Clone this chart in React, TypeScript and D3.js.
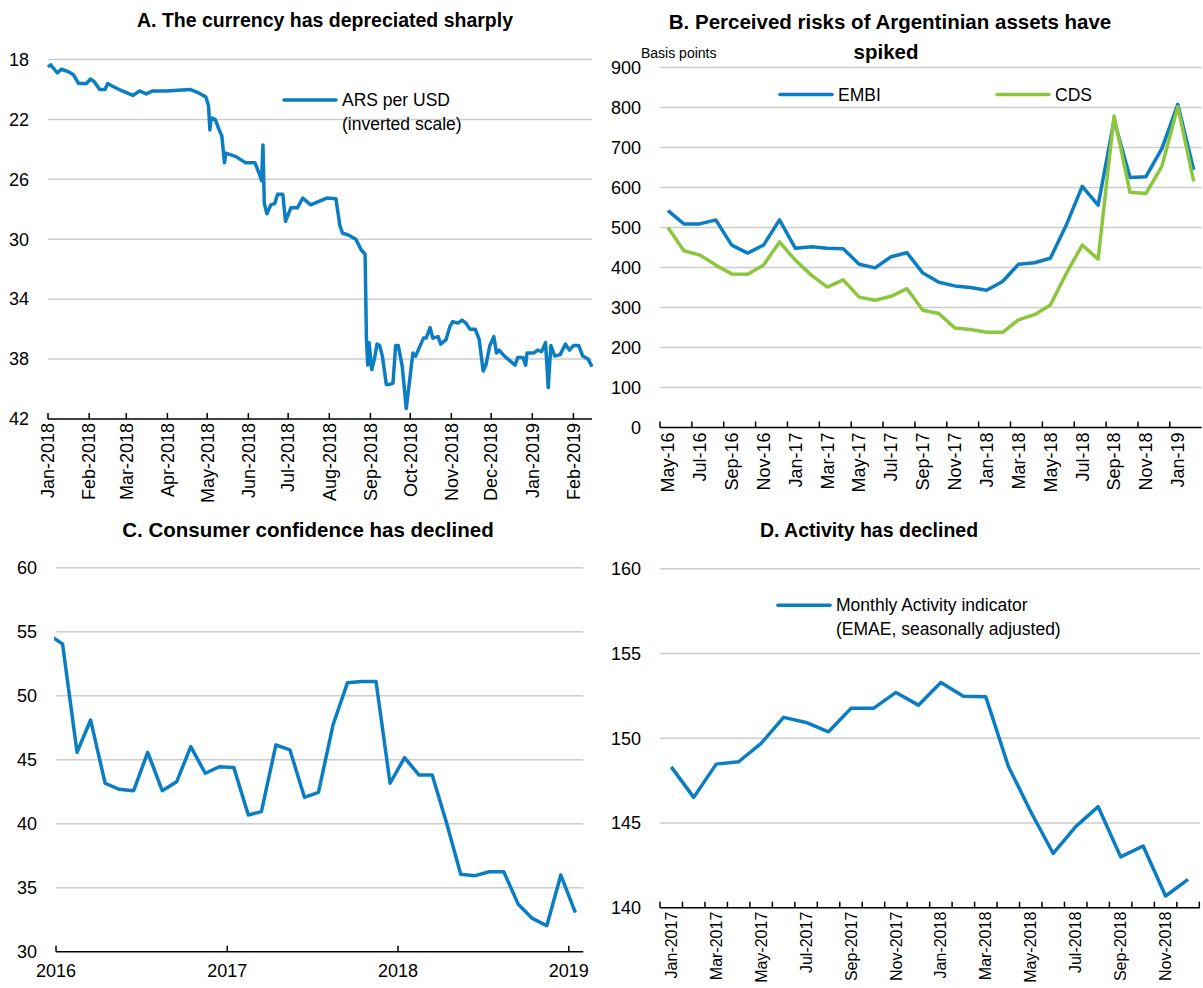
import React from 'react'
import * as d3 from 'd3'

const FONT = '"Liberation Sans", Arial, sans-serif'
const BLUE = '#0b7dc3'
const GREEN = '#8cc63f'
const GRID = '#cccccc'

// A. exchange rate, ARS per USD (inverted)
const fxDates = [
    '2018-01-01', '2018-01-03', '2018-01-08', '2018-01-11', '2018-01-16', '2018-01-20', '2018-01-24', '2018-01-30',
    '2018-02-02', '2018-02-05', '2018-02-09', '2018-02-13', '2018-02-15', '2018-02-19', '2018-02-26', '2018-03-06',
    '2018-03-11', '2018-03-16', '2018-03-21', '2018-03-31', '2018-04-18', '2018-04-25', '2018-04-30', '2018-05-02',
    '2018-05-03', '2018-05-04', '2018-05-07', '2018-05-10', '2018-05-12', '2018-05-14', '2018-05-15', '2018-05-20',
    '2018-05-23', '2018-05-30', '2018-06-06', '2018-06-10', '2018-06-11', '2018-06-12', '2018-06-13', '2018-06-15',
    '2018-06-18', '2018-06-21', '2018-06-23', '2018-06-27', '2018-06-29', '2018-07-03', '2018-07-08', '2018-07-12',
    '2018-07-18', '2018-07-30', '2018-08-06', '2018-08-09', '2018-08-11', '2018-08-15', '2018-08-21', '2018-08-25',
    '2018-08-28', '2018-08-29', '2018-08-30', '2018-08-31', '2018-09-02', '2018-09-04', '2018-09-06', '2018-09-08',
    '2018-09-10', '2018-09-13', '2018-09-15', '2018-09-18', '2018-09-20', '2018-09-22', '2018-09-25', '2018-09-28',
    '2018-10-01', '2018-10-03', '2018-10-05', '2018-10-07', '2018-10-11', '2018-10-13', '2018-10-16', '2018-10-18',
    '2018-10-22', '2018-10-24', '2018-10-28', '2018-10-31', '2018-11-02', '2018-11-06', '2018-11-09', '2018-11-12',
    '2018-11-15', '2018-11-19', '2018-11-22', '2018-11-25', '2018-11-27', '2018-11-30', '2018-12-03', '2018-12-05',
    '2018-12-07', '2018-12-11', '2018-12-15', '2018-12-19', '2018-12-21', '2018-12-25', '2018-12-27', '2018-12-28',
    '2019-01-02', '2019-01-05', '2019-01-08', '2019-01-11', '2019-01-13', '2019-01-15', '2019-01-18', '2019-01-22',
    '2019-01-26', '2019-01-29', '2019-02-01', '2019-02-05', '2019-02-08', '2019-02-12', '2019-02-15',
]
const fxValues = [
    18.5, 18.35, 18.9, 18.65, 18.8, 19.0, 19.6, 19.6,
    19.3, 19.5, 20.0, 20.0, 19.6, 19.8, 20.1, 20.4,
    20.1, 20.3, 20.1, 20.1, 20.0, 20.25, 20.5, 21.1,
    22.7, 21.9, 22.0, 22.7, 23.1, 24.9, 24.25, 24.4,
    24.5, 24.9, 24.9, 25.8, 26.1, 23.7, 27.6, 28.3,
    27.7, 27.6, 27.0, 27.0, 28.8, 27.9, 27.9, 27.25,
    27.7, 27.25, 27.3, 29.1, 29.6, 29.7, 30.0, 30.7,
    31.0, 36.7, 38.4, 36.9, 38.7, 38.0, 37.0, 37.1,
    37.8, 39.7, 39.7, 39.6, 37.1, 37.1, 38.5, 41.3,
    39.1, 37.6, 37.8, 37.4, 36.6, 36.6, 35.9, 36.6,
    36.5, 37.0, 36.7, 35.8, 35.5, 35.6, 35.4, 35.6,
    36.0, 36.0, 36.7, 38.8, 38.4, 37.1, 36.5, 37.6,
    37.4, 37.8, 38.1, 38.4, 37.9, 37.9, 38.4, 37.6,
    37.6, 37.4, 37.5, 36.9, 39.9, 37.1, 37.8, 37.7,
    37.0, 37.4, 37.1, 37.1, 37.8, 38.0, 38.5,
]
const fxTicks = [18, 22, 26, 30, 34, 38, 42]

// B. EMBI and CDS spreads, basis points
const riskMonths = [
    'May-16', 'Jun-16', 'Jul-16', 'Aug-16', 'Sep-16', 'Oct-16', 'Nov-16', 'Dec-16',
    'Jan-17', 'Feb-17', 'Mar-17', 'Apr-17', 'May-17', 'Jun-17', 'Jul-17', 'Aug-17',
    'Sep-17', 'Oct-17', 'Nov-17', 'Dec-17', 'Jan-18', 'Feb-18', 'Mar-18', 'Apr-18',
    'May-18', 'Jun-18', 'Jul-18', 'Aug-18', 'Sep-18', 'Oct-18', 'Nov-18', 'Dec-18',
    'Jan-19', 'Feb-19',
]
const embi = [
    542, 509, 509, 519, 456, 436, 456, 519,
    448, 452, 448, 447, 408, 399, 427, 437,
    386, 363, 354, 350, 343, 365, 408, 412,
    423, 506, 603, 556, 768, 625, 627, 697,
    808, 644,
]
const cds = [
    500, 442, 431, 406, 384, 383, 406, 464,
    418, 381, 351, 369, 326, 318, 328, 347,
    293, 285, 249, 245, 238, 238, 269, 282,
    306, 385, 456, 421, 779, 588, 585, 653,
    802, 615,
]
const riskTicks = [0, 100, 200, 300, 400, 500, 600, 700, 800, 900]

// C. consumer confidence index (mid-month)
const confMonths = [
    '2015-12',
    '2016-01', '2016-02', '2016-03', '2016-04', '2016-05', '2016-06', '2016-07', '2016-08', '2016-09', '2016-10', '2016-11', '2016-12',
    '2017-01', '2017-02', '2017-03', '2017-04', '2017-05', '2017-06', '2017-07', '2017-08', '2017-09', '2017-10', '2017-11', '2017-12',
    '2018-01', '2018-02', '2018-03', '2018-04', '2018-05', '2018-06', '2018-07', '2018-08', '2018-09', '2018-10', '2018-11', '2018-12',
    '2019-01',
]
const confValues = [
    54.8,
    54.04, 45.58, 48.1, 43.16, 42.69, 42.58, 45.58, 42.58, 43.28, 46.02, 43.94, 44.45,
    44.4, 40.68, 40.94, 46.15, 45.76, 42.06, 42.45, 47.71, 51.02, 51.1, 51.1, 43.16,
    45.16, 43.8, 43.8, 40.03, 36.05, 35.94, 36.25, 36.25, 33.7, 32.6, 32.03, 35.99,
    33.05,
]
const confTicks = [30, 35, 40, 45, 50, 55, 60]
const confYears = ['2016', '2017', '2018', '2019']

// D. EMAE, seasonally adjusted
const emaeMonths = [
    'Jan-2017', 'Feb-2017', 'Mar-2017', 'Apr-2017', 'May-2017', 'Jun-2017', 'Jul-2017', 'Aug-2017',
    'Sep-2017', 'Oct-2017', 'Nov-2017', 'Dec-2017', 'Jan-2018', 'Feb-2018', 'Mar-2018', 'Apr-2018',
    'May-2018', 'Jun-2018', 'Jul-2018', 'Aug-2018', 'Sep-2018', 'Oct-2018', 'Nov-2018', 'Dec-2018',
]
const emaeValues = [
    148.31, 146.51, 148.47, 148.61, 149.69, 151.23, 150.93, 150.38,
    151.76, 151.76, 152.7, 151.95, 153.29, 152.48, 152.44, 148.35,
    145.66, 143.2, 144.78, 145.96, 143.0, 143.64, 140.69, 141.67,
]
const emaeTicks = [140, 145, 150, 155, 160]

const parseDay = d3.timeParse('%Y-%m-%d')
const parseMonth = d3.timeParse('%Y-%m')

const txt = { fontFamily: FONT, fill: '#000' } as const
const TICK_FS = 18
const TITLE_FS = 19.5

const YLabels = ({ ticks, y, x }: { ticks: number[]; y: (v: number) => number; x: number }) => (
    <g>
        {ticks.map(t => (
            <text key={t} x={x} y={y(t)} dy="0.35em" textAnchor="end" fontSize={TICK_FS} style={txt}>{t}</text>
        ))}
    </g>
)

const Grid = ({ ticks, y, x0, x1 }: { ticks: number[]; y: (v: number) => number; x0: number; x1: number }) => (
    <g>
        {ticks.map(t => (
            <line key={t} x1={x0} x2={x1} y1={y(t)} y2={y(t)} stroke={GRID} strokeWidth={1.5} />
        ))}
    </g>
)

const LegendItem = ({ x, y, color, lines }: { x: number; y: number; color: string; lines: string[] }) => (
    <g>
        <line x1={x} x2={x + 52} y1={y} y2={y} stroke={color} strokeWidth={3.5} strokeLinecap="round" />
        {lines.map((l, i) => (
            <text key={i} x={x + 58} y={y + i * 24} dy="0.35em" fontSize={17.5} style={txt}>{l}</text>
        ))}
    </g>
)

function PanelA() {
    const x = d3.scaleTime().domain([new Date(2018, 0, 1), new Date(2019, 1, 15)]).range([48, 592])
    const y = d3.scaleLinear().domain([18, 42]).range([59.5, 419])
    const pts = fxDates.map((d, i) => [parseDay(d)!, fxValues[i]] as [Date, number])
    const line = d3.line<[Date, number]>().x(d => x(d[0])).y(d => y(d[1]))
    const ticks = d3.timeMonth.range(new Date(2018, 0, 1), new Date(2019, 1, 2))
    const fmt = d3.timeFormat('%b-%Y')
    return (
        <g>
            <text x={325} y={27} textAnchor="middle" fontSize={TITLE_FS} fontWeight="bold" style={txt}>A. The currency has depreciated sharply</text>
            <Grid ticks={fxTicks.slice(0, -1)} y={y} x0={48} x1={592} />
            <YLabels ticks={fxTicks} y={y} x={29} />
            <line x1={48} x2={592} y1={y(42)} y2={y(42)} stroke="#000" strokeWidth={1.5} />
            {ticks.map(t => (
                <g key={+t}>
                    <line x1={x(t)} x2={x(t)} y1={y(42)} y2={y(42) - 6} stroke="#000" strokeWidth={1.5} />
                    <text transform={`translate(${x(t)},${y(42) + 4}) rotate(-90)`} dy="0.35em" textAnchor="end" fontSize={TICK_FS} style={txt}>{fmt(t)}</text>
                </g>
            ))}
            <path d={line(pts)!} fill="none" stroke={BLUE} strokeWidth={3.5} strokeLinejoin="round" />
            <LegendItem x={284} y={100} color={BLUE} lines={['ARS per USD', '(inverted scale)']} />
        </g>
    )
}

function PanelB() {
    const x = d3.scaleBand().domain(riskMonths).range([660, 1201.7])
    const y = d3.scaleLinear().domain([0, 900]).range([427.5, 67.5])
    const cx = (m: string) => x(m)! + x.bandwidth() / 2
    const line = d3.line<number>().x((_, i) => cx(riskMonths[i])).y(d => y(d))
    const tickMonths = riskMonths.filter((_, i) => i % 2 === 0)
    return (
        <g>
            <text x={890} y={29} textAnchor="middle" fontSize={20.5} fontWeight="bold" style={txt}>B. Perceived risks of Argentinian assets have</text>
            <text x={886} y={59} textAnchor="middle" fontSize={20.5} fontWeight="bold" style={txt}>spiked</text>
            <text x={641} y={58} fontSize={14} style={txt}>Basis points</text>
            <Grid ticks={riskTicks.slice(1)} y={y} x0={660} x1={1201.7} />
            <YLabels ticks={riskTicks} y={y} x={641} />
            <line x1={660} x2={1201.7} y1={y(0)} y2={y(0)} stroke="#000" strokeWidth={1.5} />
            {tickMonths.map(m => (
                <g key={m}>
                    <line x1={x(m)!} x2={x(m)!} y1={y(0)} y2={y(0) - 6} stroke="#000" strokeWidth={1.5} />
                    <text transform={`translate(${cx(m)},${y(0) + 5}) rotate(-90)`} dy="0.35em" textAnchor="end" fontSize={TICK_FS} style={txt}>{m}</text>
                </g>
            ))}
            <path d={line(embi)!} fill="none" stroke={BLUE} strokeWidth={3.5} strokeLinejoin="round" />
            <path d={line(cds)!} fill="none" stroke={GREEN} strokeWidth={3.5} strokeLinejoin="round" />
            <LegendItem x={780} y={94.5} color={BLUE} lines={['EMBI']} />
            <LegendItem x={997} y={94.5} color={GREEN} lines={['CDS']} />
        </g>
    )
}

function PanelC() {
    const x = d3.scaleTime().domain([new Date(2016, 0, 1), new Date(2019, 1, 1)]).range([56, 583.3])
    const y = d3.scaleLinear().domain([30, 60]).range([951.7, 567.7])
    const pts = confMonths.map((m, i) => [d3.timeDay.offset(parseMonth(m)!, 14), confValues[i]] as [Date, number])
    const line = d3.line<[Date, number]>().x(d => x(d[0])).y(d => y(d[1]))
    return (
        <g>
            <defs>
                <clipPath id="clipC">
                    <rect x={54} y={540} width={540} height={420} />
                </clipPath>
            </defs>
            <text x={308} y={537} textAnchor="middle" fontSize={20.5} fontWeight="bold" style={txt}>C. Consumer confidence has declined</text>
            <Grid ticks={confTicks.slice(1)} y={y} x0={56} x1={583.3} />
            <YLabels ticks={confTicks} y={y} x={37} />
            <line x1={56} x2={583.3} y1={y(30)} y2={y(30)} stroke="#000" strokeWidth={1.5} />
            {confYears.map(yr => {
                const t = new Date(+yr, 0, 1)
                return (
                    <g key={yr}>
                        <line x1={x(t)} x2={x(t)} y1={y(30)} y2={y(30) - 6} stroke="#000" strokeWidth={1.5} />
                        <text x={x(t)} y={977} textAnchor="middle" fontSize={TICK_FS} style={txt}>{yr}</text>
                    </g>
                )
            })}
            <path d={line(pts)!} fill="none" stroke={BLUE} strokeWidth={3.5} strokeLinejoin="round" clipPath="url(#clipC)" />
        </g>
    )
}

function PanelD() {
    const x = d3.scaleBand().domain(emaeMonths).range([660, 1199.3])
    const y = d3.scaleLinear().domain([140, 160]).range([907.7, 568.7])
    const cx = (m: string) => x(m)! + x.bandwidth() / 2
    const line = d3.line<number>().x((_, i) => cx(emaeMonths[i])).y(d => y(d))
    const bounds = emaeMonths.map(m => x(m)!).concat([1199.3])
    return (
        <g>
            <text x={869} y={537} textAnchor="middle" fontSize={TITLE_FS} fontWeight="bold" style={txt}>D. Activity has declined</text>
            <Grid ticks={emaeTicks.slice(1)} y={y} x0={660} x1={1200} />
            <YLabels ticks={emaeTicks} y={y} x={641} />
            <line x1={660} x2={1200} y1={y(140)} y2={y(140)} stroke="#000" strokeWidth={1.5} />
            {bounds.map((b, i) => (
                <line key={i} x1={b} x2={b} y1={y(140)} y2={y(140) - 6} stroke="#000" strokeWidth={1.5} />
            ))}
            {emaeMonths.filter((_, i) => i % 2 === 0).map(m => (
                <text key={m} transform={`translate(${cx(m)},${y(140) + 4}) rotate(-90)`} dy="0.35em" textAnchor="end" fontSize={16} style={txt}>{m}</text>
            ))}
            <path d={line(emaeValues)!} fill="none" stroke={BLUE} strokeWidth={3.5} strokeLinejoin="round" />
            <LegendItem x={778} y={605.3} color={BLUE} lines={['Monthly Activity indicator', '(EMAE, seasonally adjusted)']} />
        </g>
    )
}

export default function App() {
    return (
        <svg width={1203} height={988} style={{ position: 'absolute', left: 0, top: 0, background: '#fff' }}>
            <rect width={1203} height={988} fill="#fff" />
            <PanelA />
            <PanelB />
            <PanelC />
            <PanelD />
        </svg>
    )
}
